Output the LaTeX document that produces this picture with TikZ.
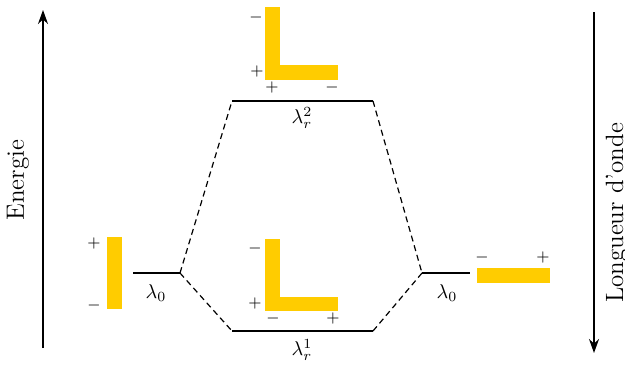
\documentclass[tikz,border=0pt]{standalone}
\usetikzlibrary{arrows.meta}
\definecolor{gold}{HTML}{FFCC00}
\begin{document}
\begin{tikzpicture}[x=0.5pt,y=-0.5pt,
  level/.style={line width=1.1pt},
  conn/.style={line width=0.6pt,dash pattern=on 3pt off 2pt},
  axis/.style={line width=0.9pt,-{Stealth[length=7pt,width=5pt]}},
  bar/.style={fill=gold,draw=none},
  sgn/.style={inner sep=0pt,font=\fontsize{8}{9}\selectfont},
  lab/.style={inner sep=0pt,font=\fontsize{10}{12}\selectfont},
  axlab/.style={inner sep=0pt,font=\fontsize{12.5}{14}\selectfont,rotate=90}]
\useasboundingbox (0,0) rectangle (625,365);
% axes
\coordinate (eb) at (43,348); \coordinate (et) at (43,10);
\draw[axis] (eb) -- (et);
\node[axlab] (elab) at (18,180) {Energie};
\coordinate (lt) at (594,12); \coordinate (lb) at (594,353);
\draw[axis] (lt) -- (lb);
\node[axlab] (llab) at (617,213) {Longueur d'onde};
% levels
\coordinate (l0a) at (133,273); \coordinate (l0b) at (180,273);
\coordinate (r0a) at (422,273); \coordinate (r0b) at (470,273);
\coordinate (t1) at (232,101); \coordinate (t2) at (373,101);
\coordinate (b1) at (232,331); \coordinate (b2) at (373,331);
\draw[level] (l0a) -- (l0b);
\draw[level] (r0a) -- (r0b);
\draw[level] (t1) -- (t2);
\draw[level] (b1) -- (b2);
\draw[conn] (l0b) -- (t1);
\draw[conn] (l0b) -- (b1);
\draw[conn] (t2) -- (r0a);
\draw[conn] (b2) -- (r0a);
\node[lab] (ll) at (156,293) {$\lambda_0$};
\node[lab] (rl) at (447,293) {$\lambda_0$};
\node[lab] (tl) at (302,118) {$\lambda_r^2$};
\node[lab] (bl) at (302,350) {$\lambda_r^1$};
% left bar
\fill[bar] (107,237) rectangle (122,309);
\node[sgn] (lp) at (94,243) {$+$};
\node[sgn] (lm) at (94,305) {$-$};
% right bar
\fill[bar] (477,268) rectangle (550,283);
\node[sgn] (rm) at (482,257) {$-$};
\node[sgn] (rp) at (543,257) {$+$};
% top L
\fill[bar] (265,7) rectangle (280,80);
\fill[bar] (265,65) rectangle (338,80);
\node[sgn] (tm1) at (256,17) {$-$};
\node[sgn] (tp1) at (257,71) {$+$};
\node[sgn] (tp2) at (272,87) {$+$};
\node[sgn] (tm2) at (332,87) {$-$};
% bottom L
\fill[bar] (265,239) rectangle (280,311);
\fill[bar] (265,297) rectangle (338,311);
\node[sgn] (bm1) at (255,248) {$-$};
\node[sgn] (bp1) at (255,303) {$+$};
\node[sgn] (bm2) at (273,318) {$-$};
\node[sgn] (bp2) at (333,318) {$+$};
\end{tikzpicture}
\end{document}
